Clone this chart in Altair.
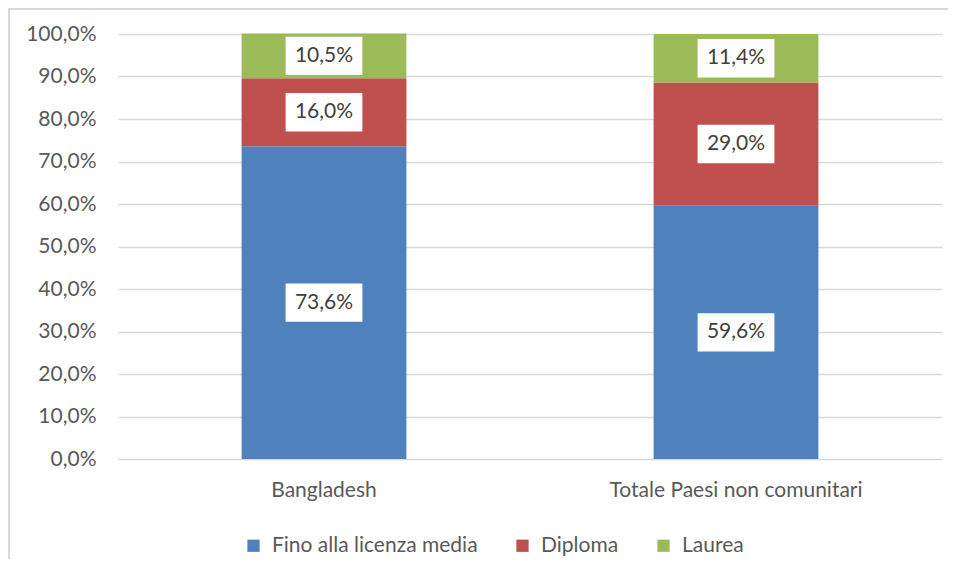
import altair as alt
import pandas as pd

countries = ["Bangladesh", "Totale Paesi non comunitari"]
levels = ["Fino alla licenza media", "Diploma", "Laurea"]
bangladesh = [73.6, 16.0, 10.5]
totale = [59.6, 29.0, 11.4]
y_ticks = [0, 10, 20, 30, 40, 50, 60, 70, 80, 90, 100]
colors = ["#4F81BD", "#C0504D", "#9BBB59"]

rows = []
for c, vals in zip(countries, [bangladesh, totale]):
    for i, (lv, v) in enumerate(zip(levels, vals)):
        rows.append({"country": c, "level": lv, "value": v, "ord": i})
df = pd.DataFrame(rows)

FONT = "Lato"
W, H = 824, 425
PL, PT, PR, PB = 110, 26, 6, 100

x_enc = alt.X("country:N", sort=countries,
              scale=alt.Scale(paddingInner=0.6, paddingOuter=0.3),
              axis=alt.Axis(title=None, labelAngle=0, ticks=False, domain=False,
                            labelFontSize=21, labelColor="#595959", labelFont=FONT,
                            labelPadding=20, labelLimit=0))

bars = alt.Chart(df).mark_bar().encode(
    x=x_enc,
    y=alt.Y("value:Q", stack="zero",
            scale=alt.Scale(domain=[0, 100], nice=False),
            axis=alt.Axis(title=None, values=y_ticks, ticks=False, domain=False,
                          labelExpr="replace(format(datum.value, '.1f'), '.', ',') + '%'",
                          labelFontSize=21, labelColor="#595959", labelFont=FONT,
                          labelPadding=22, gridColor="#D9D9D9", gridWidth=1.5)),
    color=alt.Color("level:N", sort=levels,
                    scale=alt.Scale(domain=levels, range=colors),
                    legend=alt.Legend(title=None, orient="none", direction="horizontal",
                                      legendX=125, legendY=501,
                                      symbolType="square", symbolSize=150,
                                      symbolStrokeWidth=0, labelFontSize=21,
                                      labelFont=FONT, labelColor="#595959",
                                      columnPadding=34, labelOffset=8, labelLimit=0)),
    order=alt.Order("ord:Q", sort="ascending"),
)

base_lab = alt.Chart(df).transform_stack(
    stack="value", as_=["y0", "y1"], groupby=["country"],
    sort=[alt.SortField("ord", order="ascending")]
).transform_calculate(
    mid="(datum.y0 + datum.y1) / 2",
    txt="replace(format(datum.value, '.1f'), '.', ',') + '%'"
)

boxes = base_lab.mark_point(
    shape="M-1,-0.5L1,-0.5L1,0.5L-1,0.5Z", size=5900, filled=True,
    fill="white", opacity=1, strokeWidth=0
).encode(
    x=alt.X("country:N", sort=countries),
    y=alt.Y("mid:Q"),
)

texts = base_lab.mark_text(
    fontSize=21, font=FONT, color="#404040", baseline="middle", align="center"
).encode(
    x=alt.X("country:N", sort=countries),
    y=alt.Y("mid:Q"),
    text="txt:N",
)

border_top = alt.Chart(df).mark_rule(color="#D9D9D9", strokeWidth=2, clip=False).encode(
    x=alt.value(-PL), x2=alt.value(W + PR), y=alt.value(-PT + 1)
)
border_left = alt.Chart(df).mark_rule(color="#D9D9D9", strokeWidth=2, clip=False).encode(
    x=alt.value(-PL + 1), y=alt.value(-PT), y2=alt.value(H + PB)
)

chart = alt.layer(bars, boxes, texts, border_top, border_left).properties(
    width=W, height=H,
    autosize=alt.AutoSizeParams(type="none"),
    padding={"left": PL, "top": PT, "right": PR, "bottom": PB},
).configure(background="white", view=alt.ViewConfig(stroke=None))

chart.save("out.html", embed_options={"renderer": "svg", "actions": False})
